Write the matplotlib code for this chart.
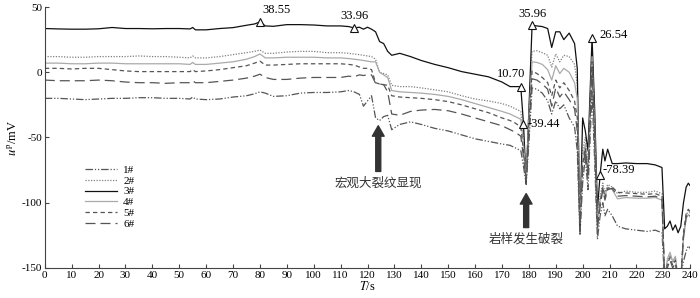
import numpy as np
import matplotlib
matplotlib.use('Agg')
from matplotlib import pyplot as plt

plt.rcParams['font.family'] = ['Liberation Serif', 'Noto Sans CJK SC']
plt.rcParams['mathtext.fontset'] = 'stix'
plt.rcParams['axes.unicode_minus'] = False

# time axis, s
t = [0, 5, 10, 15, 20, 25, 30, 35, 40, 45,
     50, 54, 55, 56, 60, 65, 70, 75, 78, 80,
     82, 85, 90, 95, 100, 105, 110, 113, 115, 117,
     118.5, 120, 121.5, 123, 124.5, 126, 127.5, 129, 132, 136,
     140, 145, 150, 155, 160, 165, 170, 173, 175, 177,
     178, 179, 180, 181.2, 183, 185, 187, 188.5, 190, 191.5,
     193, 195, 197, 198, 199, 200, 201, 202, 203.5, 204.5,
     205.5, 206.5, 207.5, 208.3, 209.3, 211, 213, 216, 220, 224,
     227, 229.5, 230.5, 231.5, 232.5, 233.5, 234.5, 235.5, 236.5, 237.5,
     238.5, 239.3, 240]

# potential of each electrode, mV
u1 = [-20, -20, -20.5, -21, -20.5, -20, -20, -19.5, -19.5, -20,
      -20, -20.5, -19, -20.5, -21, -20.5, -19, -18, -16.5, -15,
      -16, -18.5, -18, -16, -15.5, -15.5, -15, -14, -15, -17,
      -26, -22, -18, -35, -37, -34, -33, -44, -40, -38,
      -40, -43, -45, -48, -51, -53, -55, -56, -58, -60,
      -72, -86, -55, -12, -13, -16, -22, -32, -22, -28,
      -25, -35, -42, -60, -125, -85, -65, -90, -15, -70,
      -128, -110, -100, -110, -105, -110, -118, -120, -121, -122,
      -121, -123, -160, -160, -160, -160, -160, -160, -155, -145,
      -137, -133, -135]
u2 = [12, 12, 11.5, 11.5, 12, 12, 12, 12.5, 12, 12,
      11.5, 11, 12.5, 11, 11, 12, 13.5, 15, 16, 17,
      14.5, 14.5, 15.5, 16, 16, 15, 15, 14.5, 14, 13.5,
      13, 12.5, 12, 10, 0, -1, -2, -10, -11, -11,
      -12, -13.5, -15, -18, -20.5, -22, -24, -26, -28, -30,
      -50, -80, -30, 16, 16.5, 15, 13, 4, 14, 8,
      13, 12, 6, -10, -112, -60, -50, -70, 18, -40,
      -110, -95, -85, -92, -86, -88, -93, -91, -92, -92,
      -91, -93, -160, -145, -140, -146, -142, -160, -160, -125,
      -110, -106, -108]
u3 = [33.5, 33.2, 33, 33, 33.3, 34.3, 33.5, 33.5, 33.3, 33.5,
      33.5, 33.2, 34.3, 32.5, 32.5, 33.5, 34.2, 36, 37, 38.55,
      35.5, 35.2, 36.5, 36.5, 36.2, 35.5, 35.5, 35, 33.96, 34.5,
      33, 34.5, 33, 31, 23.5, 22, 16, 13, 14.5, 12,
      9, 6, 3.5, 0.5, -1.5, -3.5, -7.5, -11, -11, -11,
      -39.44, -84, -30, 35.96, 35.5, 35, 33.5, 19, 31, 31,
      25, 30, 22, 3, -118, -35, -45, -60, 26.54, -30,
      -105, -78.39, -59, -68, -59, -70, -70, -69.5, -70, -70,
      -71, -73, -120, -118, -114, -121, -117, -123, -118, -100,
      -88, -85, -87]
u4 = [7, 7, 6.5, 6.5, 7, 7, 6.5, 6.5, 6.5, 6.5,
      6.5, 6, 7.5, 6, 6, 7, 8, 10, 12, 14,
      11, 11, 11.5, 11.5, 11.5, 11, 11, 10.5, 10, 9.5,
      9, 8.5, 8, 8, 0, -2, -4, -14, -15, -15.5,
      -16, -17, -18.5, -21, -24, -27, -30, -32, -34, -36,
      -55, -82, -35, 8, 7.5, 6, 2, -6, 5, -1,
      3, 0, -8, -20, -115, -65, -55, -75, 12, -45,
      -115, -98, -88, -95, -88, -90, -97, -96, -96.5, -96.5,
      -96, -98, -160, -143, -138, -145, -141, -160, -160, -128,
      -112, -109, -111]
u5 = [3, 3, 2.5, 3, 3, 2, 1, 0.5, 0.5, 0.5,
      0.5, 0.5, 2, 0.5, 1, 2, 3.5, 5, 7, 8.5,
      5.5, 5.5, 6, 6.5, 6.5, 6.5, 6.5, 6, 5.5, 4,
      3, 3, 2, -8, -9, -9.5, -10, -18, -19, -19.5,
      -20, -21, -22.5, -25, -28, -31, -35, -37, -39, -42,
      -60, -85, -40, 1, -1, -4, -8, -18, -6, -12,
      -8, -14, -22, -35, -120, -70, -58, -78, 8, -50,
      -118, -100, -88, -96, -89, -88, -92, -92.5, -93, -93.5,
      -93, -95, -160, -147, -142, -148, -144, -160, -160, -123,
      -108, -105, -107]
u6 = [-6, -6.5, -6.5, -6.5, -6, -6.5, -7.5, -8, -8, -8.5,
      -8, -8, -6.5, -8, -8, -7, -6, -4.5, -3, -1.5,
      -4, -5.5, -5.5, -4.5, -4, -4, -4, -3, -3.5, -2,
      -2.5, -2, -2, -8.5, -9, -9.5, -15, -32, -33, -30,
      -29, -28.5, -29.5, -32, -35, -38, -41, -44, -46, -49,
      -65, -83, -45, -5, -6, -9, -13, -26, -12, -19,
      -15, -21, -28, -45, -122, -75, -60, -82, 4, -55,
      -120, -103, -90, -98, -90, -89, -95, -94.5, -95, -95.5,
      -95, -97, -160, -150, -144, -150, -146, -160, -160, -126,
      -111, -108, -110]

labels = ['1#', '2#', '3#', '4#', '5#', '6#']

# marked points on 3#
mark_t = [80, 115, 177, 178, 181.2, 203.5, 206.5]
mark_txt = ['38.55', '33.96', '10.70', '-39.44', '35.96', '26.54', '-78.39']

fig = plt.figure(figsize=(7, 2.98), dpi=100)
ax = fig.add_axes([0.064, 0.1007, 0.922, 0.8758])

styles = [
    dict(color='#555555', ls=(0, (6, 1.5, 1, 1.5, 1, 1.5)), lw=0.9),
    dict(color='#808080', ls=(0, (1, 1.2)), lw=0.9),
    dict(color='#111111', ls='-', lw=0.9),
    dict(color='#aaaaaa', ls='-', lw=0.9),
    dict(color='#555555', ls=(0, (3.5, 2.5)), lw=0.9),
    dict(color='#555555', ls=(0, (8, 4)), lw=0.9),
]
for u, lab, st in zip([u1, u2, u3, u4, u5, u6], labels, styles):
    ax.plot(t, u, label=lab, **st)

mark_v = np.interp(mark_t, t, u3)
ax.plot(mark_t, mark_v, ls='none', marker='^', ms=6, mfc='white', mec='#111111', mew=0.8)
offs = [((2, 4), 'left', 'bottom'), ((0, 4), 'center', 'bottom'), ((3, 5), 'right', 'bottom'),
        ((3, 0), 'left', 'center'), ((0, 4), 'center', 'bottom'), ((5, 2), 'left', 'center'),
        ((2, 3), 'left', 'center')]
for x, y, s, (o, ha, va) in zip(mark_t, mark_v, mark_txt, offs):
    ax.annotate(s, (x, y), xytext=o, textcoords='offset points', ha=ha, va=va, fontsize=9)

# arrows
arr = dict(arrowstyle='simple,head_length=0.75,head_width=0.85,tail_width=0.36',
           color='#333333', shrinkA=0, shrinkB=0)
ax.annotate('', xy=(124, -41), xytext=(124, -76), arrowprops=arr)
ax.annotate('', xy=(179, -93), xytext=(179, -119), arrowprops=arr)
ax.text(124, -85, '宏观大裂纹显现', ha='center', va='center', fontsize=9,
        family=['Noto Sans CJK SC'], color='#333333')
ax.text(179, -128, '岩样发生破裂', ha='center', va='center', fontsize=9,
        family=['Noto Sans CJK SC'], color='#333333')

ax.set_xlim(0, 240)
ax.set_ylim(-150, 50)
ax.set_xticks(np.arange(0, 241, 10))
ax.set_yticks([-150, -100, -50, 0, 50])
ax.tick_params(direction='in', length=3, labelsize=8, color='#444444', pad=2)
for s in ['top', 'right']:
    ax.spines[s].set_visible(False)
for s in ['left', 'bottom']:
    ax.spines[s].set_color('#444444')
ax.set_xlabel('$T$/s', fontsize=9, labelpad=0)
ax.set_ylabel('$u^{\\mathrm{p}}$/mV', fontsize=9, labelpad=2)

ax.legend(loc='upper left', bbox_to_anchor=(0.063, 0.395), frameon=False, fontsize=8,
          handlelength=2.8, handletextpad=0.6, labelspacing=0.1, borderpad=0, borderaxespad=0)

plt.savefig('out.png', dpi=100)
